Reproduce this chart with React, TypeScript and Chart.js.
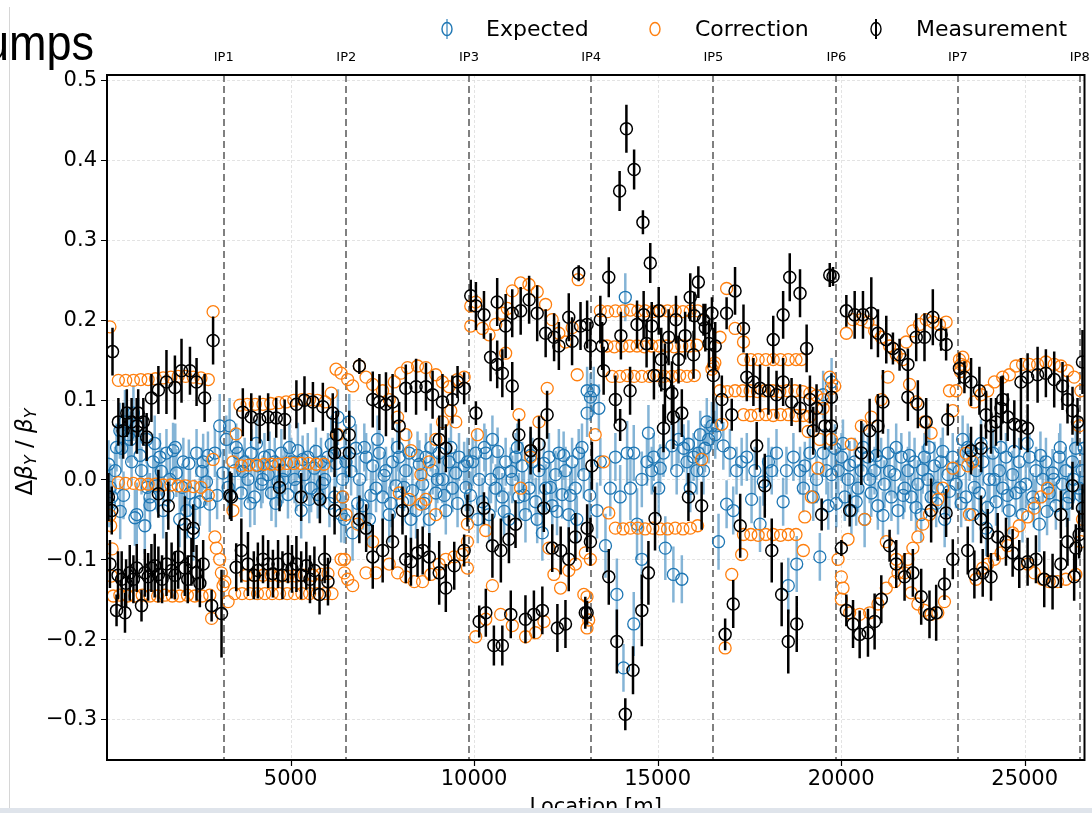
import { useEffect, useRef } from 'react';
import { Chart, registerables } from 'chart.js';
Chart.register(...registerables);

// ---------- axis definitions ----------
const xLimits = [0, 26630];
const yLimits = [-0.3513, 0.5063];
const xTicks = [5000, 10000, 15000, 20000, 25000];
const yTicks = [-0.3, -0.2, -0.1, 0.0, 0.1, 0.2, 0.3, 0.4, 0.5];
const ipPositions = [3180, 6520, 9860, 13190, 16520, 19870, 23180, 26500];
const ipLabels = ['IP1', 'IP2', 'IP3', 'IP4', 'IP5', 'IP6', 'IP7', 'IP8'];
const seriesNames = ['Expected', 'Correction', 'Measurement'];

// ---------- Expected (blue) : [location, value, error] ----------
const expected = [
  [40,0.019,0.03],[130,-0.022,0.035],[220,0.011,0.03],[350,0.061,0.035],[400,0.039,0.03],[490,0.072,0.04],[580,0.056,0.035],[670,0.022,0.03],[720,0.083,0.035],[810,-0.044,0.04],[850,0.067,0.035],[940,0.011,0.03],[1030,-0.058,0.035],[1080,0.05,0.03],[1170,-0.022,0.03],[1260,0.022,0.035],[1350,-0.008,0.03],[1440,0.028,0.03],[1530,-0.039,0.035],[1620,0.033,0.03],[1710,0.0,0.03],[1800,0.036,0.035],[1890,0.008,0.03],[1980,-0.05,0.035],[2080,0.022,0.03],[2170,-0.039,0.035],[2260,-0.017,0.03],[2350,-0.067,0.035],[2440,0.033,0.03],[2530,-0.028,0.03],[2620,0.022,0.035],[2710,-0.003,0.03],[2800,-0.031,0.035],[2940,0.033,0.03],[3070,0.067,0.04],[3160,0.008,0.03],
  [90,-0.01,0.03],[360,-0.04,0.035],[760,-0.048,0.035],[1170,-0.032,0.03],
  [60,-0.03,0.03],[260,0.04,0.03],[450,-0.02,0.03],[640,0.05,0.035],[900,0.03,0.03],[1100,-0.01,0.03],[1300,0.045,0.035],[1480,0.01,0.03],[1660,-0.02,0.03],[1860,0.04,0.03],[2050,-0.01,0.03],[2230,0.02,0.03],[2400,-0.03,0.03],[2580,0.01,0.03],[2750,0.03,0.03],[3000,-0.02,0.03],
  [3250,0.05,0.03],[3340,0.067,0.035],[3480,0.011,0.03],[3570,0.033,0.03],[3660,-0.017,0.03],[3750,0.022,0.03],[3840,0.0,0.03],[3930,0.033,0.03],[4020,-0.022,0.035],[4110,0.017,0.03],[4200,-0.006,0.03],[4290,0.028,0.03],[4390,0.006,0.03],[4480,-0.017,0.035],[4570,0.022,0.03],[4660,-0.003,0.03],[4750,0.033,0.03],[4840,0.011,0.03],[4930,-0.019,0.03],[5020,0.022,0.03],[5110,0.0,0.03],[5200,0.036,0.035],[5290,-0.039,0.035],[5380,0.006,0.03],[5470,0.028,0.03],[5560,-0.011,0.03],[5650,0.014,0.03],[5740,-0.019,0.03],[5830,0.022,0.03],[5930,0.0,0.03],[6020,0.028,0.03],[6110,0.044,0.035],[6200,-0.022,0.03],[6290,0.078,0.035],[6380,-0.044,0.035],[6470,0.033,0.03],
  [3300,-0.01,0.03],[3520,0.04,0.03],[3700,0.01,0.03],[3900,-0.03,0.03],[4070,0.045,0.03],[4240,0.0,0.03],[4430,0.03,0.03],[4600,-0.03,0.03],[4790,0.0,0.03],[4970,0.04,0.03],[5160,-0.01,0.03],[5330,0.025,0.03],[5510,-0.025,0.03],[5690,0.035,0.03],[5870,-0.005,0.03],[6060,-0.03,0.03],[6240,0.02,0.03],[6420,0.0,0.03],
  [6420,-0.022,0.03],[6510,0.022,0.03],[6600,0.072,0.035],[6690,-0.067,0.035],[6780,0.039,0.03],[6880,0.0,0.03],[6970,-0.033,0.03],[7060,0.028,0.03],[7150,-0.05,0.035],[7240,0.017,0.03],[7330,-0.011,0.03],[7420,0.033,0.03],[7510,-0.022,0.03],[7600,0.011,0.03],[7690,-0.044,0.035],[7780,0.022,0.03],[7870,-0.008,0.03],[7960,0.028,0.03],[8050,-0.028,0.03],[8140,0.011,0.03],[8230,0.033,0.03],[8320,-0.014,0.03],[8420,-0.039,0.035],[8510,0.019,0.03],[8600,-0.006,0.03],[8690,0.028,0.03],[8780,-0.05,0.035],[8870,0.011,0.03],[8960,-0.017,0.03],[9050,0.033,0.03],[9140,0.0,0.03],[9230,-0.039,0.03],[9320,0.022,0.03],[9410,-0.011,0.03],[9500,0.008,0.03],[9590,0.028,0.03],[9730,0.017,0.03],[9820,0.022,0.03],
  [6470,-0.05,0.03],[6650,0.01,0.03],[6830,-0.03,0.03],[7010,0.04,0.03],[7190,-0.02,0.03],[7370,0.05,0.03],[7550,0.005,0.03],[7730,-0.03,0.03],[7910,0.04,0.03],[8090,-0.01,0.03],[8280,-0.05,0.03],[8460,0.03,0.03],[8640,-0.03,0.03],[8820,0.04,0.03],[9000,0.0,0.03],[9190,-0.02,0.03],[9370,0.04,0.03],[9550,-0.03,0.03],[9780,-0.01,0.03],
  [9960,0.022,0.03],[10050,0.033,0.03],[10140,0.0,0.03],[10230,-0.028,0.03],[10320,0.033,0.03],[10410,-0.044,0.035],[10500,0.05,0.03],[10590,-0.011,0.03],[10680,0.008,0.03],[10770,-0.022,0.03],[10860,0.022,0.03],[10950,-0.05,0.035],[11040,0.0,0.03],[11130,0.028,0.03],[11220,-0.022,0.03],[11310,0.017,0.03],[11400,-0.044,0.035],[11500,-0.011,0.03],[11590,0.022,0.03],[11680,-0.028,0.03],[11770,0.011,0.03],[11860,-0.067,0.035],[11950,-0.011,0.03],[12040,0.028,0.03],[12130,-0.033,0.03],[12220,0.006,0.03],[12310,0.033,0.03],[12400,-0.019,0.03],[12490,0.011,0.03],[12580,-0.044,0.035],[12670,0.022,0.03],[12760,-0.011,0.03],[12850,0.033,0.03],[12990,0.006,0.03],[13080,0.083,0.03],[13080,0.111,0.03],
  [9900,-0.02,0.03],[10100,-0.05,0.03],[10280,0.04,0.03],[10460,0.0,0.03],[10640,0.035,0.03],[10820,-0.04,0.03],[11000,0.01,0.03],[11180,0.04,0.03],[11360,-0.02,0.03],[11540,0.03,0.03],[11720,-0.05,0.03],[11900,0.02,0.03],[12080,-0.01,0.03],[12260,-0.04,0.03],[12440,0.03,0.03],[12620,-0.02,0.03],[12800,-0.05,0.03],[12940,0.04,0.03],[13150,-0.02,0.03],
  [13170,0.103,0.03],[13260,0.111,0.03],[13400,0.089,0.03],[13350,-0.039,0.035],[13440,0.022,0.03],[13580,-0.083,0.04],[13710,-0.011,0.035],[13850,0.028,0.03],[13890,-0.144,0.045],[13980,-0.022,0.04],[14070,-0.236,0.03],[14120,0.228,0.03],[14170,0.033,0.04],[14260,-0.011,0.04],[14350,-0.181,0.04],[14350,0.033,0.035],[14440,-0.056,0.045],[14570,-0.1,0.05],[14570,0.0,0.035],[14710,0.022,0.03],[14750,0.058,0.035],[14840,0.011,0.03],[14890,0.028,0.03],[15030,-0.011,0.035],[15070,0.014,0.03],[15160,0.033,0.03],[15210,-0.086,0.04],[15390,0.042,0.03],[15430,-0.119,0.035],[15520,0.011,0.03],[15570,0.05,0.03],[15660,-0.125,0.03],[15710,0.039,0.03],[15800,0.022,0.03],[15840,0.044,0.03],[15890,-0.011,0.03],[15980,0.028,0.03],[16070,0.011,0.03],[16110,0.033,0.03],[16160,0.056,0.03],[16250,0.011,0.03],[16290,0.039,0.03],[16340,0.072,0.03],[16390,0.05,0.03],[16480,0.067,0.03],
  [16570,0.056,0.03],[16610,0.067,0.03],[16660,-0.078,0.035],[16790,0.042,0.03],[16880,-0.031,0.03],[16970,0.033,0.03],[17060,-0.039,0.03],[17150,0.011,0.03],[17290,0.022,0.03],[17430,0.028,0.03],[17560,-0.025,0.03],[17650,0.011,0.03],[17790,-0.056,0.035],[17880,-0.003,0.03],[18020,0.022,0.03],[18110,0.011,0.03],[18240,0.033,0.03],[18420,-0.028,0.03],[18510,0.011,0.03],[18560,-0.133,0.035],[18700,0.028,0.03],[18790,-0.106,0.035],[18880,0.011,0.03],[18970,-0.011,0.03],[19010,0.017,0.03],[19150,0.033,0.03],[19240,-0.022,0.03],[19330,0.0,0.03],[19420,-0.097,0.03],[19510,0.033,0.03],[19600,0.011,0.03],[19650,-0.033,0.03],[19740,0.006,0.03],[19510,0.106,0.03],[19740,0.122,0.03],
  [19830,0.039,0.03],[19920,0.011,0.03],[20010,0.028,0.03],[20100,-0.022,0.03],[20190,0.0,0.03],[20280,-0.039,0.03],[20370,0.022,0.03],[20460,-0.011,0.03],[20550,0.011,0.03],[20640,-0.05,0.035],[20730,0.028,0.03],[20820,-0.017,0.03],[20910,0.011,0.03],[21000,-0.033,0.03],[21090,0.022,0.03],[21180,-0.006,0.03],[21280,0.033,0.03],[21370,-0.022,0.03],[21460,0.006,0.03],[21550,-0.039,0.03],[21640,0.028,0.03],[21730,-0.011,0.03],[21820,0.011,0.03],[21910,-0.022,0.03],[22000,0.022,0.03],[22090,-0.006,0.03],[22180,-0.044,0.035],[22270,0.028,0.03],[22360,0.0,0.03],[22450,-0.022,0.03],[22540,0.017,0.03],[22630,-0.011,0.03],[22720,0.022,0.03],[22820,-0.05,0.035],[22910,0.006,0.03],[23040,0.028,0.03],[23130,-0.006,0.03],
  [19870,-0.03,0.03],[20050,0.045,0.03],[20230,0.018,0.03],[20410,-0.028,0.03],[20600,0.04,0.03],[20780,0.0,0.03],[20960,0.03,0.03],[21140,-0.045,0.03],[21320,0.01,0.03],[21500,0.04,0.03],[21690,-0.02,0.03],[21860,0.03,0.03],[22040,-0.035,0.03],[22220,0.012,0.03],[22400,0.04,0.03],[22590,-0.03,0.03],[22770,0.035,0.03],[22950,-0.015,0.03],
  [23220,0.011,0.03],[23310,0.05,0.03],[23400,-0.022,0.03],[23500,0.028,0.03],[23590,-0.044,0.035],[23680,0.011,0.03],[23770,-0.017,0.03],[23860,0.022,0.03],[23950,-0.061,0.035],[24040,0.0,0.03],[24130,0.033,0.03],[24220,-0.028,0.03],[24310,0.011,0.03],[24400,-0.011,0.03],[24490,0.028,0.03],[24580,-0.039,0.03],[24670,0.006,0.03],[24760,-0.017,0.03],[24850,0.022,0.03],[24940,-0.044,0.035],[25030,-0.006,0.03],[25130,0.028,0.03],[25220,-0.022,0.03],[25310,0.011,0.03],[25400,-0.056,0.035],[25490,0.0,0.03],[25580,0.022,0.03],[25670,-0.017,0.03],[25760,0.008,0.03],[25850,-0.033,0.03],[25940,0.028,0.03],[26030,-0.006,0.03],[26120,0.011,0.03],[26210,-0.022,0.03],[26300,0.022,0.03],[26390,0.039,0.03],[26480,-0.011,0.03],[26570,0.011,0.03],[26620,0.039,0.03],
  [23270,-0.03,0.03],[23450,0.04,0.03],[23630,-0.01,0.03],[23810,0.045,0.03],[23990,-0.035,0.03],[24170,0.0,0.03],[24350,0.04,0.03],[24530,-0.02,0.03],[24710,0.035,0.03],[24890,-0.01,0.03],[25070,0.045,0.03],[25250,-0.03,0.03],[25430,0.03,0.03],[25610,-0.04,0.03],[25790,0.0,0.03],[25970,0.04,0.03],[26150,-0.03,0.03],[26330,0.0,0.03],[26530,-0.02,0.03],
];

// ---------- Correction (orange) : [location, value] ----------
const correction = [
  [80,0.191],[82,-0.045],[100,-0.058],[140,-0.087],[120,-0.121],
  [310,0.124],[510,0.124],[720,0.124],[920,0.125],[1120,0.125],[1320,0.126],[1530,0.127],[1740,0.128],[1940,0.129],[2140,0.129],[2350,0.128],[2560,0.127],[2760,0.125],
  [2890,0.21],
  [310,-0.004],[510,-0.005],[720,-0.005],[920,-0.006],[1120,-0.006],[1320,-0.006],[1530,-0.007],[1740,-0.007],[1940,-0.008],[2140,-0.008],[2350,-0.009],[2560,-0.01],[2760,-0.02],
  [170,-0.146],[350,-0.145],[560,-0.146],[760,-0.146],[960,-0.145],[1170,-0.146],[1380,-0.146],[1580,-0.145],[1780,-0.146],[1980,-0.146],[2190,-0.145],[2390,-0.146],[2590,-0.146],[2800,-0.145],
  [2850,-0.174],[2940,-0.072],[2980,-0.086],[3070,-0.1],[3115,-0.117],[3160,-0.133],[3210,-0.128],[3300,-0.153],[2890,0.025],[3430,-0.039],[3430,0.022],[3520,0.057],
  [3620,0.093],[3820,0.094],[4040,0.094],[4250,0.094],[4460,0.095],[4680,0.096],[4880,0.097],[5090,0.099],[5310,0.1],[5520,0.1],[5730,0.099],[5940,0.097],
  [3660,0.017],[3860,0.018],[4070,0.018],[4280,0.019],[4480,0.019],[4680,0.019],[4890,0.02],[5090,0.02],[5290,0.02],[5490,0.02],[5700,0.019],[5910,0.019],
  [3790,-0.12],[4020,-0.12],[4250,-0.12],[4470,-0.12],[4700,-0.121],[4930,-0.121],[5150,-0.121],[5380,-0.12],[5610,-0.12],[5830,-0.119],[6020,-0.118],
  [3480,-0.143],[3680,-0.143],[3890,-0.143],[4100,-0.143],[4300,-0.143],[4500,-0.143],[4700,-0.143],[4910,-0.143],[5110,-0.143],[5310,-0.143],[5520,-0.143],[5730,-0.143],[5930,-0.143],[6130,-0.143],
  [6110,0.108],[6240,0.138],[6290,0.056],[6470,-0.1],[6420,-0.022],
  [6376,0.133],[6557,0.125],[6693,0.117],[6512,-0.044],[6376,-0.1],[6467,-0.117],[6557,-0.125],[6693,-0.133],
  [6875,0.142],[7056,0.128],[7237,0.119],[7509,0.111],[7826,0.122],[8007,0.133],[8188,0.14],[8460,0.142],[8687,0.14],[8958,0.131],[9140,0.122],[9321,0.116],[9547,0.125],[9729,0.128],
  [7690,0.1],[7917,0.078],[8143,0.056],[8279,0.036],[8551,0.006],[8687,-0.025],
  [8777,0.022],[8958,0.05],[9140,0.072],[9366,0.086],[9502,0.072],
  [7056,-0.117],[7328,-0.117],[7690,-0.106],[7917,-0.117],[8143,-0.122],[8370,-0.128],[8596,-0.128],[8822,-0.119],[9049,-0.106],[9230,-0.1],[9457,-0.097],
  [6830,-0.056],[7237,-0.078],[7962,-0.017],[8234,-0.025],[8551,-0.031],[8958,-0.044],
  [9819,-0.056],[9819,-0.078],[9683,-0.094],[9819,-0.111],
  [9910,0.217],[9910,0.192],[10046,0.222],[10227,0.189],[10408,0.181],[10589,0.194],[10770,0.208],[10906,0.214],[11042,0.236],[11268,0.246],[11495,0.244],[11721,0.235],[11948,0.219],[12129,0.2],[12310,0.183],[12491,0.172],[12672,0.19],[12836,0.25],[12809,0.131],
  [10861,0.158],[11223,0.081],[11540,0.036],[11993,0.114],[11767,0.072],[10091,0.056],[10318,-0.064],[11268,-0.011],[11540,0.028],
  [10046,-0.197],[10318,-0.175],[10499,-0.133],[10725,-0.169],[11042,-0.183],[11404,-0.197],[11676,-0.192],[11903,-0.178],[12039,-0.086],[12175,-0.119],[12356,-0.136],[12582,-0.114],[12763,-0.106],[12990,-0.144],
  [13032,-0.092],[13168,-0.1],[13077,-0.147],[13077,-0.186],[13123,-0.176],
  [13440,0.211],[13640,0.21],[13850,0.211],[14060,0.211],[14260,0.212],[14460,0.211],[14660,0.211],[14870,0.21],[15070,0.211],[15270,0.211],[15480,0.211],[15690,0.21],[15890,0.211],[16090,0.211],
  [13620,0.167],[13820,0.166],[14030,0.167],[14240,0.167],[14440,0.167],[14640,0.166],[14840,0.167],[15050,0.167],[15250,0.167],[15450,0.166],[15660,0.167],[15870,0.167],[16070,0.168],
  [13760,0.129],[13970,0.129],[14170,0.13],[14360,0.129],[14570,0.129],[14780,0.129],[14980,0.13],[15180,0.129],[15390,0.129],[15600,0.13],[15800,0.129],[16000,0.13],
  [13850,-0.061],[14060,-0.062],[14260,-0.061],[14460,-0.061],[14660,-0.062],[14870,-0.061],[15070,-0.062],[15270,-0.062],[15480,-0.061],[15690,-0.062],[15890,-0.061],[16090,-0.058],
  [13300,0.056],[13530,0.022],[13670,-0.042],[16200,0.025],[16520,0.142],[16480,0.138],[16560,0.146],[16700,0.178],[16750,0.069],[16880,0.239],[17110,0.189],[17340,0.172],[17020,-0.119],[17290,-0.094],[16840,-0.211],
  [17340,0.15],[17540,0.15],[17740,0.15],[17950,0.15],[18150,0.15],[18350,0.15],[18560,0.15],[18770,0.15],[18920,0.15],
  [16700,0.111],[16900,0.11],[17110,0.111],[17320,0.111],[17520,0.111],[17720,0.11],[17920,0.111],[18130,0.111],[18330,0.11],[18530,0.111],[18740,0.111],[18950,0.11],[19150,0.108],[19330,0.105],[19510,0.1],
  [17340,0.081],[17540,0.08],[17740,0.081],[17950,0.081],[18150,0.08],[18350,0.081],[18560,0.081],[18770,0.08],[18970,0.08],[19150,0.079],
  [17340,-0.069],[17540,-0.069],[17740,-0.07],[17950,-0.069],[18150,-0.069],[18350,-0.07],[18560,-0.069],[18770,-0.069],
  [19190,-0.022],[18970,-0.089],[19420,0.05],[19690,0.128],[19510,0.089],[19370,0.014],[19010,-0.047],[19100,0.06],
  [19735,0.114],[19825,0.117],[19735,0.05],
  [20188,-0.075],[19916,-0.1],[20006,-0.122],[20052,-0.136],[20006,-0.15],[20233,-0.167],[20505,-0.169],[20777,-0.167],[21003,-0.156],[21230,-0.136],[21456,-0.128],[21547,-0.117],[21818,-0.1],[21954,-0.086],[22090,-0.072],[22226,-0.056],[22407,-0.044],[22634,-0.025],[22770,-0.011],[23042,0.014],
  [20142,0.183],[20324,0.2],[20550,0.2],[20731,0.197],[20912,0.186],[21094,0.178],[21320,0.167],[21501,0.156],[21682,0.15],[21863,0.119],[22045,0.097],[22271,0.072],[22452,0.058],
  [20278,0.044],[20550,0.067],[20822,0.078],[21094,0.1],[21275,0.128],[21773,0.172],[21954,0.186],[22135,0.194],[22317,0.2],[22498,0.197],[22679,0.194],[22860,0.197],
  [20641,-0.05],[21230,-0.078],[21501,-0.1],[21728,-0.117],[21909,-0.142],[22090,-0.156],[22271,-0.164],[22452,-0.169],[22634,-0.167],[22815,-0.153],
  [23223,0.15],[23268,0.144],[23313,0.153],[23359,0.142],[23250,0.135],[23132,0.111],[22951,0.111],[23042,0.086],
  [23630,0.097],[23812,0.106],[23993,0.111],[24174,0.122],[24401,0.128],[24582,0.131],[24763,0.142],[24944,0.144],[25125,0.144],[25352,0.144],[25578,0.147],[25805,0.144],[25986,0.142],[26167,0.136],[26348,0.128],[26530,0.111],
  [23676,-0.125],[23857,-0.111],[23993,-0.106],[24174,-0.1],[24355,-0.092],[24537,-0.083],[24672,-0.067],[24853,-0.058],[25080,-0.047],[25261,-0.036],[25443,-0.022],[25624,-0.011],
  [25080,-0.106],[25261,-0.117],[25488,-0.125],[25669,-0.128],[25895,-0.128],[26122,-0.125],[26394,-0.119],
  [23404,0.033],[23449,0.017],[23585,0.022],[23495,-0.044],[26530,-0.078],[26575,-0.05],[26484,0.067],
];

// ---------- Measurement (black) : [location, value, error] ----------
const measurement = [
  [150,0.16,0.03],[310,0.072,0.03],[440,0.061,0.035],[540,0.083,0.03],[670,0.072,0.03],[810,0.067,0.035],[850,0.083,0.03],[990,0.072,0.03],[1080,0.053,0.03],[1210,0.102,0.03],[1400,0.112,0.03],[1620,0.122,0.04],[1850,0.115,0.04],[2030,0.136,0.04],[2260,0.136,0.03],[2440,0.122,0.03],[2660,0.102,0.03],[2890,0.174,0.03],
  [40,-0.022,0.03],[130,-0.039,0.03],[1400,-0.018,0.03],[1670,-0.033,0.03],[2120,-0.056,0.035],[2350,-0.061,0.03],
  [80,-0.106,0.03],[400,-0.125,0.035],[620,-0.117,0.035],[810,-0.111,0.03],[1030,-0.117,0.03],[1210,-0.111,0.03],[1400,-0.119,0.035],[1620,-0.106,0.04],[1760,-0.114,0.035],[1940,-0.097,0.04],[2120,-0.111,0.035],[2300,-0.103,0.03],[2440,-0.117,0.035],[2620,-0.106,0.03],[260,-0.164,0.02],[490,-0.167,0.025],[940,-0.158,0.02],[2850,-0.158,0.02],[3120,-0.168,0.055],
  [300,-0.12,0.03],[520,-0.13,0.03],[720,-0.125,0.03],[1120,-0.122,0.03],[1300,-0.108,0.04],[1500,-0.125,0.03],[1850,-0.12,0.03],[2200,-0.125,0.03],[2530,-0.13,0.03],
  [3390,-0.022,0.03],[3700,0.084,0.03],[3930,0.078,0.03],[4160,0.075,0.03],[4390,0.078,0.03],[4610,0.077,0.025],[4840,0.075,0.025],[5160,0.094,0.03],[5380,0.099,0.03],[5610,0.097,0.025],[5880,0.091,0.03],[6150,0.083,0.025],
  [5290,-0.022,0.03],[6200,-0.039,0.03],[6200,0.033,0.03],[6250,0.056,0.03],
  [3660,-0.089,0.04],[3840,-0.106,0.04],[4110,-0.114,0.035],[4390,-0.106,0.03],[4660,-0.106,0.03],[4930,-0.1,0.03],[5160,-0.106,0.035],[5430,-0.108,0.03],[5650,-0.114,0.03],[5930,-0.1,0.03],[6020,-0.128,0.03],[5790,-0.144,0.025],
  [3520,-0.11,0.03],[4000,-0.12,0.03],[4250,-0.1,0.03],[4520,-0.118,0.03],[4780,-0.12,0.03],[5040,-0.112,0.03],[5290,-0.12,0.03],[5530,-0.125,0.03],[3350,-0.02,0.03],[4700,-0.01,0.03],[5800,-0.025,0.03],
  [6875,0.142,0.01],[6600,0.056,0.03],[6600,0.033,0.03],[7240,0.1,0.035],[7420,0.097,0.035],[7600,0.094,0.04],[7780,0.097,0.035],[7960,0.067,0.03],[8140,0.114,0.03],[8420,0.116,0.035],[8690,0.116,0.03],[8870,0.106,0.03],[9140,0.097,0.035],[9410,0.1,0.03],[9550,0.122,0.02],[9730,0.114,0.02],[9050,0.05,0.03],[9230,0.039,0.03],
  [6875,-0.05,0.03],[7060,-0.061,0.03],[7240,-0.097,0.04],[7510,-0.089,0.04],[7780,-0.078,0.035],[8050,-0.039,0.03],[8140,-0.1,0.03],[8280,-0.103,0.03],[8460,-0.092,0.03],[8600,-0.089,0.03],[8780,-0.097,0.03],[9050,-0.117,0.04],[9230,-0.136,0.03],[9460,-0.108,0.03],[9730,-0.089,0.02],
  [9820,-0.039,0.02],[9910,0.23,0.02],[10050,0.217,0.03],[10270,0.206,0.03],[10630,0.222,0.03],[10860,0.192,0.04],[11040,0.208,0.03],[11270,0.211,0.03],[11500,0.225,0.03],[11720,0.208,0.035],[11950,0.183,0.03],[12180,0.178,0.03],[12310,0.167,0.03],[12580,0.203,0.03],[12850,0.258,0.01],[12900,0.192,0.03],[12670,0.173,0.03],
  [10450,0.153,0.03],[10630,0.144,0.03],[10770,0.133,0.03],[11040,0.117,0.03],
  [11220,0.056,0.02],[11540,0.036,0.03],[11770,0.044,0.035],[11990,0.081,0.03],[10050,0.083,0.015],
  [10270,-0.036,0.02],[10500,-0.083,0.04],[10730,-0.089,0.04],[10950,-0.075,0.03],[11130,-0.056,0.03],[11900,-0.036,0.03],[12130,-0.086,0.03],[12360,-0.089,0.03],[12580,-0.1,0.04],[12760,-0.072,0.03],[13080,-0.061,0.03],
  [10140,-0.178,0.02],[10320,-0.167,0.03],[10540,-0.208,0.025],[10770,-0.208,0.025],[11000,-0.169,0.03],[11400,-0.175,0.03],[11630,-0.169,0.03],[11860,-0.164,0.03],[12270,-0.186,0.03],[12490,-0.181,0.03],[13030,-0.167,0.02],
  [13170,-0.078,0.03],[13080,-0.167,0.015],[13210,0.017,0.03],[13080,0.194,0.03],[13170,0.167,0.03],
  [13440,0.2,0.03],[13490,0.167,0.03],[13670,0.253,0.025],[13530,0.136,0.03],[13850,0.1,0.03],[13980,0.068,0.02],[13890,-0.203,0.04],[13670,-0.122,0.035],[14120,-0.294,0.02],[14330,-0.239,0.03],[14150,0.439,0.03],[13965,0.361,0.025],[14360,0.388,0.025],[14600,0.322,0.015],[14800,0.271,0.025],[14250,0.111,0.03],[14440,0.194,0.03],[14570,-0.164,0.045],[14750,-0.117,0.04],[14840,0.192,0.03],[14930,-0.049,0.04],[15030,0.211,0.03],[15160,0.064,0.03],[15300,0.178,0.035],[15390,0.108,0.04],[15570,0.15,0.03],[15660,0.083,0.03],[15840,-0.022,0.03],[15890,0.228,0.03],[15980,0.156,0.03],[16110,0.247,0.02],[16200,-0.033,0.03],[16250,0.2,0.02],[16480,0.208,0.02],[15430,0.078,0.04],[14620,0.206,0.03],
  [14000,0.18,0.03],[14700,0.17,0.03],[15100,0.15,0.04],[15500,0.2,0.03],[15750,0.18,0.03],[16000,0.205,0.03],[16300,0.19,0.03],[16400,0.17,0.03],[14900,0.13,0.03],[15200,0.12,0.05],[16520,0.13,0.06],
  [16750,0.1,0.03],[16880,0.208,0.02],[17110,0.236,0.03],[17020,0.081,0.02],[16840,-0.194,0.02],[17060,-0.156,0.03],[17250,-0.058,0.04],[17340,0.189,0.03],[17430,0.128,0.03],[17610,0.122,0.03],[17700,0.042,0.03],[17920,-0.008,0.04],[18110,-0.089,0.04],[18150,0.175,0.03],[18380,-0.144,0.04],[18420,0.206,0.03],[18560,-0.203,0.04],[18600,0.253,0.03],[18790,-0.181,0.035],[18880,0.233,0.03],[19060,0.164,0.03],[19240,0.061,0.03],[19470,-0.044,0.02],[19690,0.256,0.015],
  [17790,0.114,0.03],[18020,0.111,0.03],[18240,0.106,0.03],[18420,0.122,0.03],[18650,0.097,0.03],[18880,0.089,0.03],[19150,0.1,0.03],[19330,0.089,0.03],[19560,0.067,0.03],[16570,0.167,0.03],
  [19780,0.254,0.012],[20142,0.211,0.02],[20369,0.206,0.03],[20595,0.206,0.03],[20822,0.208,0.045],[21003,0.183,0.03],[21230,0.175,0.03],[21411,0.164,0.02],[21592,0.156,0.02],[21818,0.144,0.02],[21818,0.103,0.03],[22090,0.094,0.03],[22317,0.072,0.03],[21139,0.097,0.04],[21003,0.067,0.04],[20777,0.061,0.04],[20550,0.033,0.04],[20233,-0.039,0.02],[20006,-0.086,0.01],[20142,-0.164,0.02],[20324,-0.181,0.03],[20505,-0.194,0.03],[20731,-0.192,0.03],[20912,-0.178,0.035],[21094,-0.15,0.03],[21320,-0.083,0.02],[21501,-0.106,0.03],[21728,-0.122,0.03],[21954,-0.117,0.03],[22181,-0.147,0.035],[22407,-0.169,0.03],[22589,-0.167,0.035],[22815,-0.131,0.02],[23042,-0.1,0.025],[22452,-0.039,0.04],[22860,-0.042,0.03],[22045,0.178,0.03],[22271,0.178,0.03],[22498,0.203,0.035],[22724,0.181,0.02],[22860,0.169,0.02],[22906,0.075,0.02],[19735,0.103,0.03],[19735,0.067,0.03],
  [23223,0.139,0.02],[23359,0.128,0.02],[23540,0.122,0.03],[23767,0.111,0.03],[23948,0.081,0.03],[24083,0.067,0.035],[24219,0.072,0.03],[24355,0.089,0.04],[24537,0.078,0.03],[24718,0.069,0.03],[24899,0.067,0.03],[25080,0.064,0.03],[23812,0.039,0.03],[23540,0.036,0.03],[24401,0.1,0.03],[24899,0.122,0.03],[25080,0.128,0.03],[25352,0.131,0.035],[25578,0.133,0.03],[25805,0.125,0.035],[26031,0.117,0.03],[26167,0.1,0.03],[26303,0.086,0.03],[26439,0.072,0.03],[26575,0.147,0.04],
  [23449,-0.089,0.03],[23630,-0.119,0.03],[23857,-0.117,0.03],[24083,-0.122,0.03],[24265,-0.072,0.03],[24491,-0.078,0.03],[24672,-0.092,0.03],[24853,-0.106,0.03],[25080,-0.103,0.03],[25307,-0.1,0.03],[25533,-0.125,0.035],[25760,-0.128,0.035],[25986,-0.106,0.03],[26167,-0.078,0.03],[26348,-0.122,0.03],[26394,-0.086,0.03],[26484,-0.069,0.03],[25986,-0.044,0.03],[26303,-0.008,0.03],[26575,-0.036,0.03],[23812,-0.05,0.03],[23993,-0.067,0.03],
];

const FONT = '"DejaVu Sans", "Noto Sans", sans-serif';
const BLUE = '#1f77b4';
const BLUE_ERR = 'rgba(31,119,180,0.55)';
const ORANGE = '#ff7f0e';
const BLACK = '#000000';

function fmtY(v: number) {
  const s = Math.abs(v).toFixed(1);
  return v < -1e-9 ? '\u2212' + s : s;
}

const decorPlugin = {
  id: 'decor',
  beforeDatasetsDraw(chart: any) {
    const { ctx, chartArea: a, scales } = chart;
    const xs = scales.x, ys = scales.y;
    ctx.save();
    ctx.strokeStyle = '#dcdcdc';
    ctx.lineWidth = 0.8;
    ctx.setLineDash([3, 2]);
    ctx.beginPath();
    yTicks.forEach((v) => {
      const py = Math.round(ys.getPixelForValue(v)) + 0.5;
      ctx.moveTo(a.left, py); ctx.lineTo(a.right, py);
    });
    xTicks.forEach((v) => {
      const px = Math.round(xs.getPixelForValue(v)) + 0.5;
      ctx.moveTo(px, a.top); ctx.lineTo(px, a.bottom);
    });
    ctx.stroke();
    ctx.strokeStyle = '#808080';
    ctx.lineWidth = 2;
    ctx.setLineDash([7, 4]);
    ctx.beginPath();
    ipPositions.forEach((v) => {
      const px = Math.round(xs.getPixelForValue(v));
      ctx.moveTo(px, a.top); ctx.lineTo(px, a.bottom);
    });
    ctx.stroke();
    ctx.restore();
  },
  beforeDatasetDraw(chart: any, args: any) {
    const ds = chart.data.datasets[args.index];
    if (!ds.errColor) return;
    const { ctx, chartArea: a } = chart;
    const ys = chart.scales.y;
    ctx.save();
    ctx.beginPath();
    ctx.rect(a.left, a.top, a.right - a.left, a.bottom - a.top);
    ctx.clip();
    ctx.strokeStyle = ds.errColor;
    ctx.lineWidth = ds.errWidth;
    ctx.beginPath();
    args.meta.data.forEach((pt: any, i: number) => {
      const r = ds.data[i];
      ctx.moveTo(pt.x, ys.getPixelForValue(r.y + r.e));
      ctx.lineTo(pt.x, ys.getPixelForValue(r.y - r.e));
    });
    ctx.stroke();
    ctx.restore();
  },
  afterDraw(chart: any) {
    const { ctx, chartArea: a, scales } = chart;
    const xs = scales.x, ys = scales.y;
    ctx.save();
    ctx.strokeStyle = '#000';
    ctx.lineWidth = 2;
    ctx.setLineDash([]);
    ctx.strokeRect(a.left, a.top, a.right - a.left, a.bottom - a.top);
    ctx.lineWidth = 1.2;
    ctx.beginPath();
    yTicks.forEach((v) => {
      const py = Math.round(ys.getPixelForValue(v)) + 0.5;
      ctx.moveTo(a.left - 6, py); ctx.lineTo(a.left, py);
    });
    xTicks.forEach((v) => {
      const px = Math.round(xs.getPixelForValue(v)) + 0.5;
      ctx.moveTo(px, a.bottom); ctx.lineTo(px, a.bottom + 6);
    });
    ctx.stroke();
    ctx.fillStyle = '#000';
    ctx.font = '21px ' + FONT;
    ctx.textAlign = 'right';
    ctx.textBaseline = 'middle';
    yTicks.forEach((v) => ctx.fillText(fmtY(v), a.left - 10, ys.getPixelForValue(v) + 1));
    ctx.textAlign = 'center';
    ctx.textBaseline = 'top';
    xTicks.forEach((v) => ctx.fillText(String(v), xs.getPixelForValue(v), a.bottom + 9));
    ctx.font = '13px ' + FONT;
    ctx.textBaseline = 'middle';
    ipPositions.forEach((v, i) => ctx.fillText(ipLabels[i], xs.getPixelForValue(v), 58));
    ctx.font = '21px ' + FONT;
    ctx.textBaseline = 'alphabetic';
    ctx.fillText('Location [m]', (a.left + a.right) / 2, 813);
    // y title
    ctx.save();
    ctx.translate(32, 452);
    ctx.rotate(-Math.PI / 2);
    const parts = [
      { t: '\u0394', f: '23px ' + FONT, dy: 0 },
      { t: '\u03b2', f: 'italic 23px ' + FONT, dy: 0 },
      { t: 'Y', f: 'italic 16px ' + FONT, dy: 4 },
      { t: ' / ', f: '23px ' + FONT, dy: 0 },
      { t: '\u03b2', f: 'italic 23px ' + FONT, dy: 0 },
      { t: 'Y', f: 'italic 16px ' + FONT, dy: 4 },
    ];
    let total = 0;
    parts.forEach((p) => { ctx.font = p.f; total += ctx.measureText(p.t).width; });
    let cx = -total / 2;
    ctx.textAlign = 'left';
    ctx.textBaseline = 'alphabetic';
    parts.forEach((p) => {
      ctx.font = p.f;
      ctx.fillText(p.t, cx, p.dy);
      cx += ctx.measureText(p.t).width;
    });
    ctx.restore();
    // legend
    const ly = 29;
    const legendItems = [
      { mx: 447, tx: 486, col: BLUE, err: BLUE_ERR, ew: 2 },
      { mx: 655, tx: 695, col: ORANGE, err: null, ew: 0 },
      { mx: 876, tx: 916, col: BLACK, err: BLACK, ew: 2 },
    ];
    legendItems.forEach((it, i) => {
      if (it.err) {
        ctx.strokeStyle = it.err;
        ctx.lineWidth = it.ew;
        ctx.beginPath();
        ctx.moveTo(it.mx, ly - 10); ctx.lineTo(it.mx, ly + 10);
        ctx.stroke();
      }
      ctx.strokeStyle = it.col;
      ctx.lineWidth = 1.4;
      ctx.beginPath();
      ctx.ellipse(it.mx, ly, 5, 6.5, 0, 0, Math.PI * 2);
      ctx.stroke();
      ctx.fillStyle = '#000';
      ctx.font = '22px ' + FONT;
      ctx.textAlign = 'left';
      ctx.textBaseline = 'middle';
      ctx.fillText(seriesNames[i], it.tx, ly + 1);
    });
    // slide title fragment
    ctx.save();
    ctx.translate(94, 60);
    ctx.scale(0.9, 1);
    ctx.font = '50px "Liberation Sans", Arial, sans-serif';
    ctx.textAlign = 'right';
    ctx.textBaseline = 'alphabetic';
    ctx.fillStyle = '#000';
    ctx.fillText('umps', 0, 0);
    ctx.restore();
    // slide frame
    ctx.strokeStyle = '#d6d6d6';
    ctx.lineWidth = 1;
    ctx.beginPath();
    ctx.moveTo(9.5, 7); ctx.lineTo(9.5, 808);
    ctx.stroke();
    ctx.fillStyle = '#dfe4eb';
    ctx.fillRect(0, 808, 1092, 5);
    ctx.restore();
  },
};

function toPoints(arr: number[][]) {
  return arr.map((p) => ({ x: p[0], y: p[1], e: p[2] ?? 0 }));
}

export default function App() {
  const ref = useRef<HTMLCanvasElement | null>(null);
  useEffect(() => {
    if (!ref.current) return;
    const chart = new Chart(ref.current, {
      type: 'scatter',
      data: {
        datasets: [
          {
            label: seriesNames[0],
            data: toPoints(expected),
            pointStyle: 'circle',
            pointRadius: 6,
            pointBorderWidth: 1.3,
            pointBorderColor: BLUE,
            pointBackgroundColor: 'rgba(0,0,0,0)',
            order: 3,
            errColor: BLUE_ERR,
            errWidth: 2.5,
          } as any,
          {
            label: seriesNames[1],
            data: toPoints(correction),
            pointStyle: 'circle',
            pointRadius: 6,
            pointBorderWidth: 1.3,
            pointBorderColor: ORANGE,
            pointBackgroundColor: 'rgba(0,0,0,0)',
            order: 2,
          } as any,
          {
            label: seriesNames[2],
            data: toPoints(measurement),
            pointStyle: 'circle',
            pointRadius: 6,
            pointBorderWidth: 1.5,
            pointBorderColor: BLACK,
            pointBackgroundColor: 'rgba(0,0,0,0)',
            order: 1,
            errColor: BLACK,
            errWidth: 2.5,
          } as any,
        ],
      },
      options: {
        responsive: false,
        animation: false,
        devicePixelRatio: 1,
        events: [],
        layout: { padding: { left: 107, top: 75, right: 5, bottom: 53 } },
        plugins: { legend: { display: false }, tooltip: { enabled: false } },
        scales: {
          x: { type: 'linear', min: xLimits[0], max: xLimits[1], display: false },
          y: { type: 'linear', min: yLimits[0], max: yLimits[1], display: false },
        },
      },
      plugins: [decorPlugin],
    });
    return () => chart.destroy();
  }, []);
  return (
    <div style={{ position: 'fixed', left: 0, top: 0, width: 1092, height: 813, background: '#fff' }}>
      <canvas ref={ref} width={1092} height={813} style={{ width: 1092, height: 813, display: 'block' }} />
    </div>
  );
}
